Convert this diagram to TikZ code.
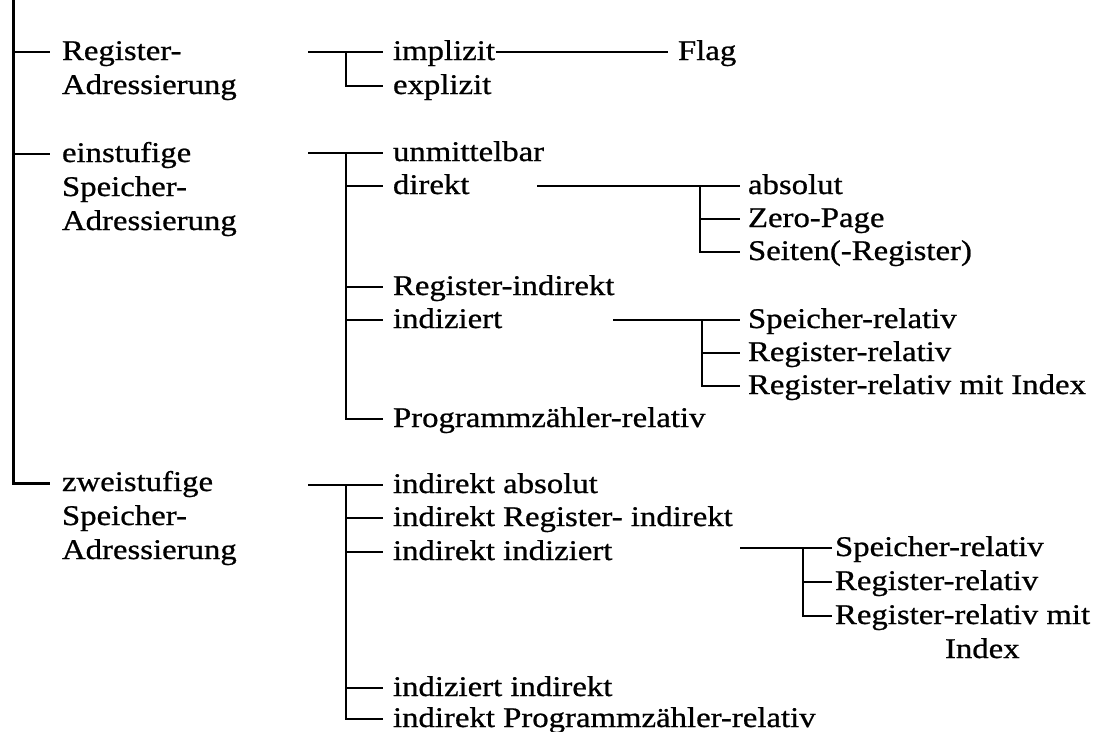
\documentclass[tikz,border=0pt]{standalone}
\usepackage{fontspec}
\setmainfont{Liberation Serif}[FakeStretch=1.15,FakeBold=0.8]
\begin{document}
\begin{tikzpicture}[x=1pt,y=-1pt,
  lab/.style={anchor=west,inner xsep=0pt,inner ysep=0pt,outer sep=0pt,
    text height=20pt,text depth=4pt,font=\fontsize{28.5}{33}\selectfont},
  conn/.style={line width=2.6pt,line join=miter},
  mainline/.style={line width=3pt,line join=miter},
  gp/.style={shorten >=#1}]
\useasboundingbox (0,0) rectangle (1113,731);
% level 1
\node[lab] (reg)   at (62,52)  {Register-};
\node[lab] (reg2)  at (62,86)  {Adressierung};
\node[lab] (ein)   at (62,154) {einstufige};
\node[lab] (ein2)  at (62,188) {Speicher-};
\node[lab] (ein3)  at (62,222) {Adressierung};
\node[lab] (zwei)  at (62,483) {zweistufige};
\node[lab] (zwei2) at (62,517) {Speicher-};
\node[lab] (zwei3) at (62,551) {Adressierung};
% level 2, group 1
\node[lab] (impl) at (393,52) {implizit};
\node[lab] (expl) at (393,86) {explizit};
\node[lab] (flag) at (678,52) {Flag};
% level 2, group 2
\node[lab] (unm)  at (393,153) {unmittelbar};
\node[lab] (dir)  at (393,186) {direkt};
\node[lab] (rind) at (393,287) {Register-indirekt};
\node[lab] (ind)  at (393,320) {indiziert};
\node[lab] (prog) at (393,419) {Programmzähler-relativ};
\node[lab] (abs)  at (748,186) {absolut};
\node[lab] (zero) at (748,219) {Zero-Page};
\node[lab] (seit) at (748,252) {Seiten(-Register)};
\node[lab] (sr1)  at (748,320) {Speicher-relativ};
\node[lab] (rr1)  at (748,353) {Register-relativ};
\node[lab] (rri1) at (748,386) {Register-relativ mit Index};
% level 2, group 3
\node[lab] (iabs)  at (393,485) {indirekt absolut};
\node[lab] (ireg)  at (393,518) {indirekt Register- indirekt};
\node[lab] (iind)  at (393,552) {indirekt indiziert};
\node[lab] (indi)  at (393,688) {indiziert indirekt};
\node[lab] (iprog) at (393,719) {indirekt Programmzähler-relativ};
\node[lab] (sr2)  at (835,548) {Speicher-relativ};
\node[lab] (rr2)  at (835,582) {Register-relativ};
\node[lab] (rri2) at (835,616) {Register-relativ mit};
\node[lab] (idx)  at (945,650) {Index};
% coordinates
\coordinate (top) at (13,0);
\coordinate (g1) at (308,52);  \coordinate (v1) at (346,52);
\coordinate (g2) at (308,153); \coordinate (v2) at (346,153);
\coordinate (g3) at (308,485); \coordinate (v3) at (346,485);
\coordinate (d0) at (537,186); \coordinate (dv) at (700,186);
\coordinate (i0) at (613,320); \coordinate (iv) at (702,320);
\coordinate (j0) at (740,548); \coordinate (jv) at (803,548);
% main tree
\draw[mainline,gp=12pt] (top) |- (zwei.west);
\draw[conn,gp=12pt] (top |- reg.west) -- (reg.west);
\draw[conn,gp=12pt] (top |- ein.west) -- (ein.west);
% group 1
\draw[conn,gp=10pt] (g1) -- (impl.west);
\draw[conn,gp=10pt] (v1) |- (expl.west);
\draw[conn,shorten <=1pt,gp=10pt] (impl.east) -- (flag.west);
% group 2
\draw[conn,gp=10pt] (g2) -- (unm.west);
\draw[conn,gp=10pt] (v2) |- (prog.west);
\draw[conn,gp=10pt] (v2 |- dir.west) -- (dir.west);
\draw[conn,gp=10pt] (v2 |- rind.west) -- (rind.west);
\draw[conn,gp=10pt] (v2 |- ind.west) -- (ind.west);
\draw[conn,gp=8pt] (d0) -- (abs.west);
\draw[conn,gp=8pt] (dv) |- (seit.west);
\draw[conn,gp=8pt] (dv |- zero.west) -- (zero.west);
\draw[conn,gp=8pt] (i0) -- (sr1.west);
\draw[conn,gp=8pt] (iv) |- (rri1.west);
\draw[conn,gp=8pt] (iv |- rr1.west) -- (rr1.west);
% group 3
\draw[conn,gp=10pt] (g3) -- (iabs.west);
\draw[conn,gp=10pt] (v3) |- (iprog.west);
\draw[conn,gp=10pt] (v3 |- ireg.west) -- (ireg.west);
\draw[conn,gp=10pt] (v3 |- iind.west) -- (iind.west);
\draw[conn,gp=10pt] (v3 |- indi.west) -- (indi.west);
\draw[conn,gp=3pt] (j0) -- (sr2.west);
\draw[conn,gp=3pt] (jv) |- (rri2.west);
\draw[conn,gp=3pt] (jv |- rr2.west) -- (rr2.west);
\end{tikzpicture}
\end{document}
